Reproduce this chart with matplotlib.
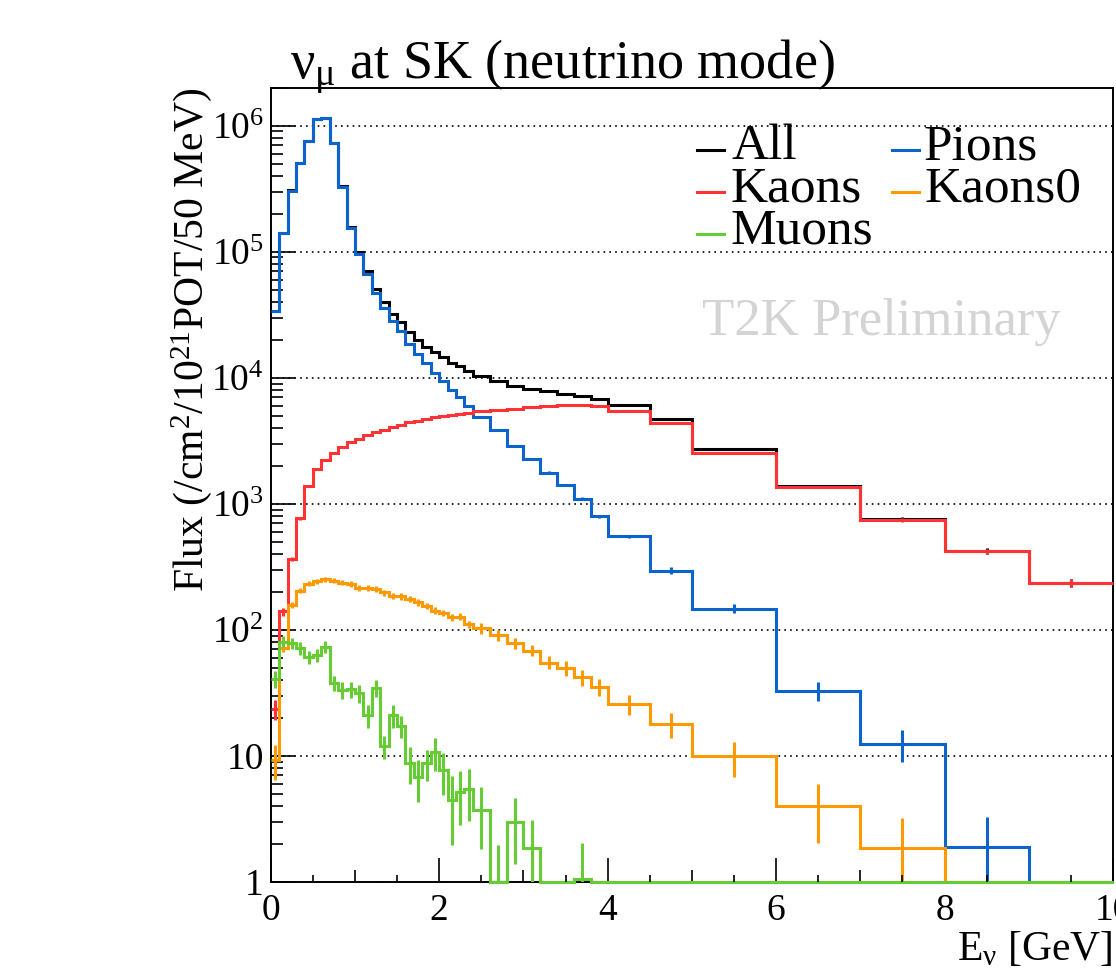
import matplotlib
matplotlib.use("Agg")
import matplotlib.pyplot as plt
from matplotlib.lines import Line2D
from matplotlib.ticker import FuncFormatter, LogLocator, MultipleLocator
import numpy as np

plt.rcParams["font.family"] = ["Liberation Serif", "DejaVu Serif"]
plt.rcParams["mathtext.fontset"] = "custom"
plt.rcParams["mathtext.rm"] = "Liberation Serif"
plt.rcParams["mathtext.it"] = "Liberation Serif"
plt.rcParams["mathtext.bf"] = "Liberation Serif:bold"

# energy binning (GeV)
edges = [0.0, 0.1, 0.2, 0.3, 0.4, 0.5, 0.6, 0.7, 0.8, 0.9, 1.0, 1.1, 1.2, 1.3,
         1.4, 1.5, 1.6, 1.7, 1.8, 1.9, 2.0, 2.1, 2.2, 2.3, 2.4, 2.6, 2.8, 3.0,
         3.2, 3.4, 3.6, 3.8, 4.0, 4.5, 5.0, 6.0, 7.0, 8.0, 9.0, 10.0]

# flux per parent, /cm2/1e21 POT/50 MeV
flux_all = [3.41e4, 1.42e5, 3.06e5, 5.07e5, 7.62e5, 1.12e6, 1.14e6, 7.33e5, 3.31e5,
            1.57e5, 9.95e4, 7.0e4, 5.05e4, 4.0e4, 3.22e4, 2.77e4, 2.31e4, 2.01e4,
            1.77e4, 1.59e4, 1.45e4, 1.32e4, 1.23e4, 1.14e4, 1.04e4, 9.5e3, 8.65e3,
            8.15e3, 7.8e3, 7.5e3, 7.2e3, 6.78e3, 6.06e3, 4.67e3, 2.71e3, 1.39e3,
            760, 424, 237]
err_all = [150, 300, 500, 700, 900, 1100, 1100, 900, 600, 400, 300, 250, 200, 180,
           160, 150, 135, 125, 115, 105, 100, 95, 90, 90, 65, 60, 55, 52, 48, 46,
           45, 43, 32, 31, 31, 26, 22, 21, 18]

flux_pions = [3.40e4, 1.42e5, 3.05e5, 5.06e5, 7.6e5, 1.12e6, 1.14e6, 7.3e5, 3.28e5,
              1.54e5, 9.6e4, 6.65e4, 4.67e4, 3.6e4, 2.8e4, 2.33e4, 1.85e4, 1.54e4,
              1.3e4, 1.09e4, 9.35e3, 8.03e3, 7.03e3, 6.0e3, 4.88e3, 3.82e3, 2.85e3,
              2.26e3, 1.77e3, 1.415e3, 1.1e3, 794, 551, 295, 147, 32.8, 12.5, 1.9, 0]
err_pions = [150, 300, 500, 700, 900, 1100, 1100, 900, 600, 400, 300, 250, 200, 180,
             160, 150, 130, 120, 110, 100, 95, 90, 85, 80, 55, 50, 45, 40, 35, 30,
             27, 24, 20, 18, 12, 5.5, 3.5, 1.35, 0]

flux_kaons = [23.5, 140, 364, 769, 1390, 1885, 2230, 2550, 2800, 3070, 3260, 3510,
              3710, 3870, 4060, 4240, 4420, 4580, 4730, 4880, 4990, 5080, 5180, 5300,
              5400, 5570, 5700, 5850, 6000, 6050, 6050, 5950, 5480, 4360, 2550, 1355,
              745, 420, 235]
err_kaons = [4.2, 10, 15, 20, 25, 28, 30, 32, 33, 34, 35, 36, 37, 38, 39, 40, 40, 41,
             42, 42, 43, 43, 44, 44, 32, 33, 33, 34, 34, 35, 35, 35, 25, 25, 28, 25,
             22, 21, 18]

flux_kaons0 = [9.3, 72, 158, 205, 232, 242, 252, 246, 237, 232, 214, 216, 210, 198,
               186, 184, 175, 165, 155, 142, 136, 126, 127, 111, 103, 91, 78, 68.5,
               55, 49.7, 42, 35.5, 25.9, 17.9, 9.9, 4.03, 1.85, 0, 0]
err_kaons0 = [2.9, 5, 8, 10, 11, 12, 12, 12, 12, 12, 12, 12, 12, 11, 11, 11, 10, 10,
              9, 9, 8, 8, 8, 7, 10, 9, 8, 7, 6.5, 6.7, 6, 5.5, 4.8, 4.0, 3.05, 2.0,
              1.35, 0, 0]

flux_muons = [40.8, 80.7, 79, 71.6, 60.7, 63.4, 73.8, 37.8, 33.4, 33.7, 31.4, 21.1,
              34.4, 12.0, 21.1, 17.3, 8.85, 6.85, 8.75, 10.8, 7.74, 4.47, 5.21, 5.44,
              3.73, 0.5, 3.0, 1.85, 0, 0, 1.05, 0, 0, 0, 0, 0, 0, 0, 0]
err_muons = [6, 8, 8, 8, 7.5, 7.5, 8.5, 5, 5, 5, 5, 4.4, 5.3, 2.5, 4.4, 3.5, 2.9, 2.5,
             2.4, 3.2, 2.8, 2.5, 2.4, 2.4, 1.9, 1.47, 1.6, 1.25, 0, 0, 1.0, 0, 0, 0,
             0, 0, 0, 0, 0]

labels = ["All", "Pions", "Kaons", "Kaons0", "Muons"]
colors = ["#000000", "#0a64cc", "#ff3333", "#ff9900", "#66cc33"]
fluxes = [flux_all, flux_pions, flux_kaons, flux_kaons0, flux_muons]
errors = [err_all, err_pions, err_kaons, err_kaons0, err_muons]

W, H = 1116, 969
fig = plt.figure(figsize=(W / 100, H / 100), dpi=100)
ax = fig.add_axes([270.7 / W, 1 - 882 / H, (1113 - 270.7) / W, (882 - 87.7) / H])

ymin, ymax = 1.0, 2e6
lw = 2.2
e = np.array(edges)
centers = 0.5 * (e[:-1] + e[1:])

for vals, errs, c in zip(fluxes, errors, colors):
    v = np.array(vals, dtype=float)
    s = np.array(errs, dtype=float)
    # empty bins sit on the bottom of the frame like ROOT does
    ax.stairs(np.clip(v, ymin, None), e, baseline=None, color=c, lw=lw,
              clip_on=False, zorder=3)
    m = s > 0
    lo = np.clip(v - s, 1e-3, None)
    ax.vlines(centers[m], lo[m], (v + s)[m], colors=c, lw=lw, zorder=3)

ax.set_yscale("log")
ax.set_xlim(0, 10)
ax.set_ylim(ymin, ymax)

def ylab(val, pos):
    k = int(round(np.log10(val)))
    if k == 0:
        return "1"
    if k == 1:
        return "10"
    return r"$10^{%d}$" % k

ax.yaxis.set_major_locator(LogLocator(base=10, numticks=10))
ax.yaxis.set_minor_locator(LogLocator(base=10, subs=np.arange(2, 10), numticks=20))
ax.yaxis.set_major_formatter(FuncFormatter(ylab))
ax.yaxis.set_minor_formatter(FuncFormatter(lambda v, p: ""))
ax.xaxis.set_major_locator(MultipleLocator(2))
ax.xaxis.set_minor_locator(MultipleLocator(1))

ax.tick_params(which="major", direction="in", length=17, width=1.2,
               labelsize=27, top=False, right=False)
ax.tick_params(which="minor", direction="in", length=8.6, width=1.2,
               top=False, right=False)
ax.tick_params(axis="x", pad=8)
ax.tick_params(axis="y", pad=5)

# third level of x ticks at the half GeV marks
half = np.arange(0.5, 10, 1.0)
ax.vlines(half, 0, 7 / 794, transform=ax.get_xaxis_transform(), colors="black",
          lw=1.2, zorder=4)

for sp in ax.spines.values():
    sp.set_linewidth(1.4)

ax.yaxis.grid(True, which="major", linestyle=(0, (1, 2.5)), color="black", lw=1.2)
ax.xaxis.grid(False)
ax.set_axisbelow(True)

fig.text(290 / W, 1 - 78 / H, r"$\nu_{\mu}$ at SK (neutrino mode)", fontsize=39,
         ha="left", va="baseline")
fig.text(192 / W, 1 - 88 / H, r"Flux (/cm$^{2}$/10$^{21}$POT/50 MeV)", fontsize=30,
         rotation=90, ha="center", va="top")
fig.text(1112 / W, 1 - 960 / H, r"E$_{\nu}$ [GeV]", fontsize=30,
         ha="right", va="baseline")
fig.text(881 / W, 1 - 322 / H, "T2K Preliminary", fontsize=38, color="#d4d4d4",
         ha="center", va="center")

# legend, two columns
leg_rows = {"All": (0, 0), "Kaons": (0, 1), "Muons": (0, 2),
            "Pions": (1, 0), "Kaons0": (1, 1)}
col_line = [(697, 724), (892, 919)]
col_text = [731, 924]
row_base = [159, 201, 243]
for name, c in zip(labels, colors):
    col, row = leg_rows[name]
    yb = row_base[row]
    x0, x1 = col_line[col]
    fig.add_artist(Line2D([x0 / W, x1 / W], [1 - (yb - 9) / H] * 2,
                          transform=fig.transFigure, color=c, lw=lw))
    fig.text(col_text[col] / W, 1 - yb / H, name, fontsize=37,
             ha="left", va="baseline")

fig.savefig("out.png", dpi=100)
